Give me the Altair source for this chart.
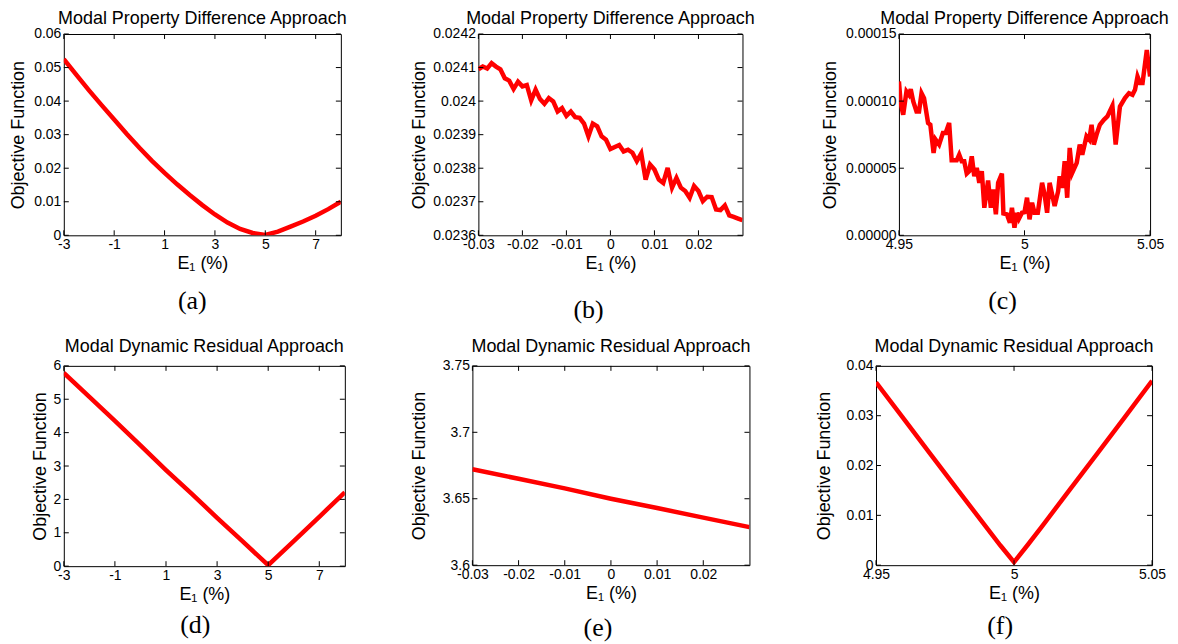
import altair as alt
import pandas as pd

# ---------------- data ----------------
a_x = [-3, -2.5, -2, -1.5, -1, -0.5, 0, 0.5, 1, 1.5, 2, 2.5, 3, 3.5, 4, 4.5, 5, 5.5, 6, 6.5, 7, 7.5, 8]
a_y = [0.0525, 0.0478, 0.0432, 0.0388, 0.0345, 0.0302, 0.0261, 0.0222, 0.0186, 0.0152, 0.0120,
       0.0090, 0.0062, 0.0038, 0.0019, 0.0007, 0.0001, 0.0011, 0.0026, 0.0041, 0.0058, 0.0078, 0.0100]

b_x = [-0.030, -0.029, -0.028, -0.027, -0.026, -0.025, -0.024, -0.023, -0.022, -0.021,
       -0.020, -0.019, -0.018, -0.017, -0.016, -0.015, -0.014, -0.013, -0.012, -0.011,
       -0.010, -0.009, -0.008, -0.007, -0.006, -0.005, -0.004, -0.003, -0.002, -0.001,
       0.000, 0.001, 0.002, 0.003, 0.004, 0.005, 0.006, 0.007, 0.008, 0.009,
       0.010, 0.011, 0.012, 0.013, 0.014, 0.015, 0.016, 0.017, 0.018, 0.019,
       0.020, 0.021, 0.022, 0.023, 0.024, 0.025, 0.026, 0.027, 0.028, 0.029, 0.030]
b_y = [0.024095, 0.024103, 0.024097, 0.024113, 0.024103, 0.024095, 0.024068, 0.024061, 0.024036, 0.024058,
       0.024044, 0.024048, 0.024002, 0.024034, 0.024006, 0.023992, 0.024009, 0.023999, 0.023969, 0.023979,
       0.023956, 0.023969, 0.023952, 0.023950, 0.023933, 0.023895, 0.023933, 0.023925, 0.023895, 0.023885,
       0.023857, 0.023863, 0.023869, 0.023850, 0.023855, 0.023846, 0.023821, 0.023844, 0.023766, 0.023811,
       0.023796, 0.023766, 0.023756, 0.023801, 0.023742, 0.023771, 0.023742, 0.023732, 0.023712, 0.023747,
       0.023732, 0.023702, 0.023715, 0.023714, 0.023677, 0.023675, 0.023689, 0.023659, 0.023655, 0.023650,
       0.023645]

c_x = [4.9500, 4.9507, 4.9517, 4.9530, 4.9540, 4.9547, 4.9557, 4.9570, 4.9580, 4.9590,
       4.9600, 4.9616, 4.9625, 4.9638, 4.9646, 4.9660, 4.9675, 4.9686, 4.9700, 4.9710,
       4.9730, 4.9740, 4.9750, 4.9760, 4.9770, 4.9780, 4.9790, 4.9800, 4.9810, 4.9820,
       4.9830, 4.9840, 4.9855, 4.9866, 4.9875, 4.9886, 4.9895, 4.9910, 4.9916, 4.9930,
       4.9942, 4.9950, 4.9960, 4.9970, 4.9978, 4.9990, 5.0000, 5.0010, 5.0020, 5.0030,
       5.0040, 5.0053, 5.0070, 5.0080, 5.0090, 5.0100, 5.0110, 5.0120, 5.0134, 5.0140,
       5.0150, 5.0160, 5.0170, 5.0180, 5.0190, 5.0208, 5.0220, 5.0230, 5.0247, 5.0258,
       5.0267, 5.0276, 5.0287, 5.0300, 5.0316, 5.0330, 5.0350, 5.0363, 5.0380, 5.0400,
       5.0416, 5.0430, 5.0440, 5.0450, 5.0460, 5.0470, 5.0487, 5.0500]
c_y = [0.0001146, 0.0000985, 0.0000899, 0.0001072, 0.0001047, 0.0001089, 0.0000998, 0.0000923, 0.0000923, 0.0001059,
       0.0001022, 0.0000837, 0.0000824, 0.0000614, 0.0000713, 0.0000676, 0.0000762, 0.0000762, 0.0000837, 0.0000559,
       0.0000559, 0.0000601, 0.0000552, 0.0000552, 0.0000460, 0.0000478, 0.0000589, 0.0000441, 0.0000502, 0.0000391,
       0.0000478, 0.0000205, 0.0000408, 0.0000205, 0.0000342, 0.0000156, 0.0000391, 0.0000460, 0.0000163, 0.0000156,
       0.0000094, 0.0000205, 0.0000057, 0.0000168, 0.0000124, 0.0000168, 0.0000173, 0.0000280, 0.0000119, 0.0000243,
       0.0000168, 0.0000168, 0.0000391, 0.0000304, 0.0000168, 0.0000391, 0.0000304, 0.0000218, 0.0000329, 0.0000441,
       0.0000354, 0.0000552, 0.0000280, 0.0000651, 0.0000465, 0.0000540, 0.0000676, 0.0000601, 0.0000738, 0.0000713,
       0.0000824, 0.0000676, 0.0000750, 0.0000824, 0.0000861, 0.0000886, 0.0000965, 0.0000676, 0.0000960, 0.0001022,
       0.0001059, 0.0001047, 0.0001084, 0.0001183, 0.0001134, 0.0001134, 0.0001381, 0.0001183]

d_x = [-3, -2, -1, 0, 1, 2, 3, 4, 5, 6, 7, 8]
d_y = [5.79, 5.07, 4.35, 3.62, 2.88, 2.17, 1.45, 0.74, 0.03, 0.75, 1.48, 2.21]

e_x = [-0.03, -0.02, -0.01, 0.0, 0.01, 0.02, 0.03]
e_y = [3.6722, 3.6650, 3.6578, 3.6500, 3.6430, 3.6358, 3.6286]

f_x = [4.95, 4.96, 4.97, 4.98, 4.99, 4.995, 5.0, 5.005, 5.01, 5.02, 5.03, 5.04, 5.05]
f_y = [0.0367, 0.0294, 0.0221, 0.0148, 0.0076, 0.0040, 0.0006, 0.0041, 0.0077, 0.0150, 0.0223, 0.0296, 0.0370]

# axis ticks
xt_wide = [-3, -1, 1, 3, 5, 7]
xt_small = [-0.03, -0.02, -0.01, 0, 0.01, 0.02]
xt_five = [4.95, 5.0, 5.05]
a_yt = [0, 0.01, 0.02, 0.03, 0.04, 0.05, 0.06]
b_yt = [0.0236, 0.0237, 0.0238, 0.0239, 0.024, 0.0241, 0.0242]
c_yt = [0, 0.00005, 0.0001, 0.00015]
d_yt = [0, 1, 2, 3, 4, 5, 6]
e_yt = [3.6, 3.65, 3.7, 3.75]
f_yt = [0, 0.01, 0.02, 0.03, 0.04]

TITLE_TOP = "Modal Property Difference Approach"
TITLE_BOT = "Modal Dynamic Residual Approach"
YTITLE = "Objective Function"
XTITLE = "E\u2081 (%)"
SUBS = ["(a)", "(b)", "(c)", "(d)", "(e)", "(f)"]

FONT = "Liberation Sans"
MINUS_FIX = "replace(datum.label, '\u2212', '-')"


def panel(xs, ys, xdom, ydom, xticks, yticks, W, H, title, sub, sub_dx, sub_dy,
          yfmt, ext, tpad, toff=0):
    xscale = alt.Scale(domain=xdom, nice=False, zero=False)
    yscale = alt.Scale(domain=ydom, nice=False, zero=False)
    yaxis = alt.Axis(values=yticks, format=yfmt, labelExpr=MINUS_FIX, title=YTITLE,
                     minExtent=ext, maxExtent=ext, titlePadding=tpad, labelPadding=3)
    xaxis = alt.Axis(values=xticks, format="~g", labelExpr=MINUS_FIX, title=XTITLE,
                     labelFlush=False, labelOverlap=False, labelPadding=2, titlePadding=3)
    X = alt.X("x:Q", scale=xscale, axis=xaxis)
    Y = alt.Y("y:Q", scale=yscale, axis=yaxis)
    line = alt.Chart(pd.DataFrame({"x": xs, "y": ys})).mark_line(
        color="#FF0000", strokeWidth=4.5, clip=True
    ).encode(x=X, y=Y)
    xt = pd.DataFrame({"x": xticks})
    yt = pd.DataFrame({"y": yticks})
    xb = alt.Chart(xt).mark_rule(color="black", strokeWidth=1).encode(
        x=X, y=alt.value(H), y2=alt.value(H - 5))
    xtp = alt.Chart(xt).mark_rule(color="black", strokeWidth=1).encode(
        x=X, y=alt.value(0), y2=alt.value(5))
    yl = alt.Chart(yt).mark_rule(color="black", strokeWidth=1).encode(
        y=Y, x=alt.value(0), x2=alt.value(5))
    yr = alt.Chart(yt).mark_rule(color="black", strokeWidth=1).encode(
        y=Y, x=alt.value(W), x2=alt.value(W - 5))
    lab = alt.Chart(pd.DataFrame({"t": [sub]})).mark_text(
        font="Liberation Serif", fontSize=26, color="black", baseline="middle", align="center"
    ).encode(text="t:N", x=alt.value(W / 2 + sub_dx), y=alt.value(H + sub_dy))
    return alt.layer(line, xb, xtp, yl, yr, lab).properties(
        width=W, height=H,
        title=alt.TitleParams(title, fontSize=18, font=FONT, fontWeight="normal",
                              color="black", offset=toff, anchor="middle", frame="group"),
    )


pa = panel(a_x, a_y, [-3, 8], [0, 0.06], xt_wide, a_yt, 278, 202, TITLE_TOP, SUBS[0], -10, 66,
           "~g", 32, 4, toff=-0.5)
pb = panel(b_x, b_y, [-0.03, 0.03], [0.0236, 0.0242], xt_small, b_yt, 265, 202, TITLE_TOP, SUBS[1], -22, 75,
           "~g", 46, 4, toff=-0.5)
pc = panel(c_x, c_y, [4.95, 5.05], [0, 0.00015], xt_five, c_yt, 252, 202, TITLE_TOP, SUBS[2], -22, 66,
           ".5f", 54, 6, toff=-0.5)
pd_ = panel(d_x, d_y, [-3, 8], [0, 6], xt_wide, d_yt, 282, 201, TITLE_BOT, SUBS[3], -9, 59,
            "~g", 10, 4, toff=2.5)
pe = panel(e_x, e_y, [-0.03, 0.03], [3.6, 3.75], xt_small, e_yt, 278, 200, TITLE_BOT, SUBS[4], -13, 63,
           "~g", 32, 12, toff=2.5)
pf = panel(f_x, f_y, [4.95, 5.05], [0, 0.04], xt_five, f_yt, 277, 200, TITLE_BOT, SUBS[5], -14, 61,
           "~g", 32, 11, toff=2.5)

chart = alt.concat(
    pa, pb, pc, pd_, pe, pf, columns=3,
    spacing={"row": 14, "column": 62},
    align={"row": "each", "column": "none"},
).properties(
    padding={"left": 1, "top": 0, "right": 0, "bottom": 0}
).configure(
    background="white"
).configure_view(
    stroke="#000000", strokeWidth=1
).configure_axis(
    labelFont=FONT, labelFontSize=14, labelColor="black",
    titleFont=FONT, titleFontSize=18, titleFontWeight="normal", titleColor="black",
    grid=False, domain=False, ticks=False, tickSize=0,
)

chart.save("out.html", embed_options={"renderer": "svg", "actions": False})
